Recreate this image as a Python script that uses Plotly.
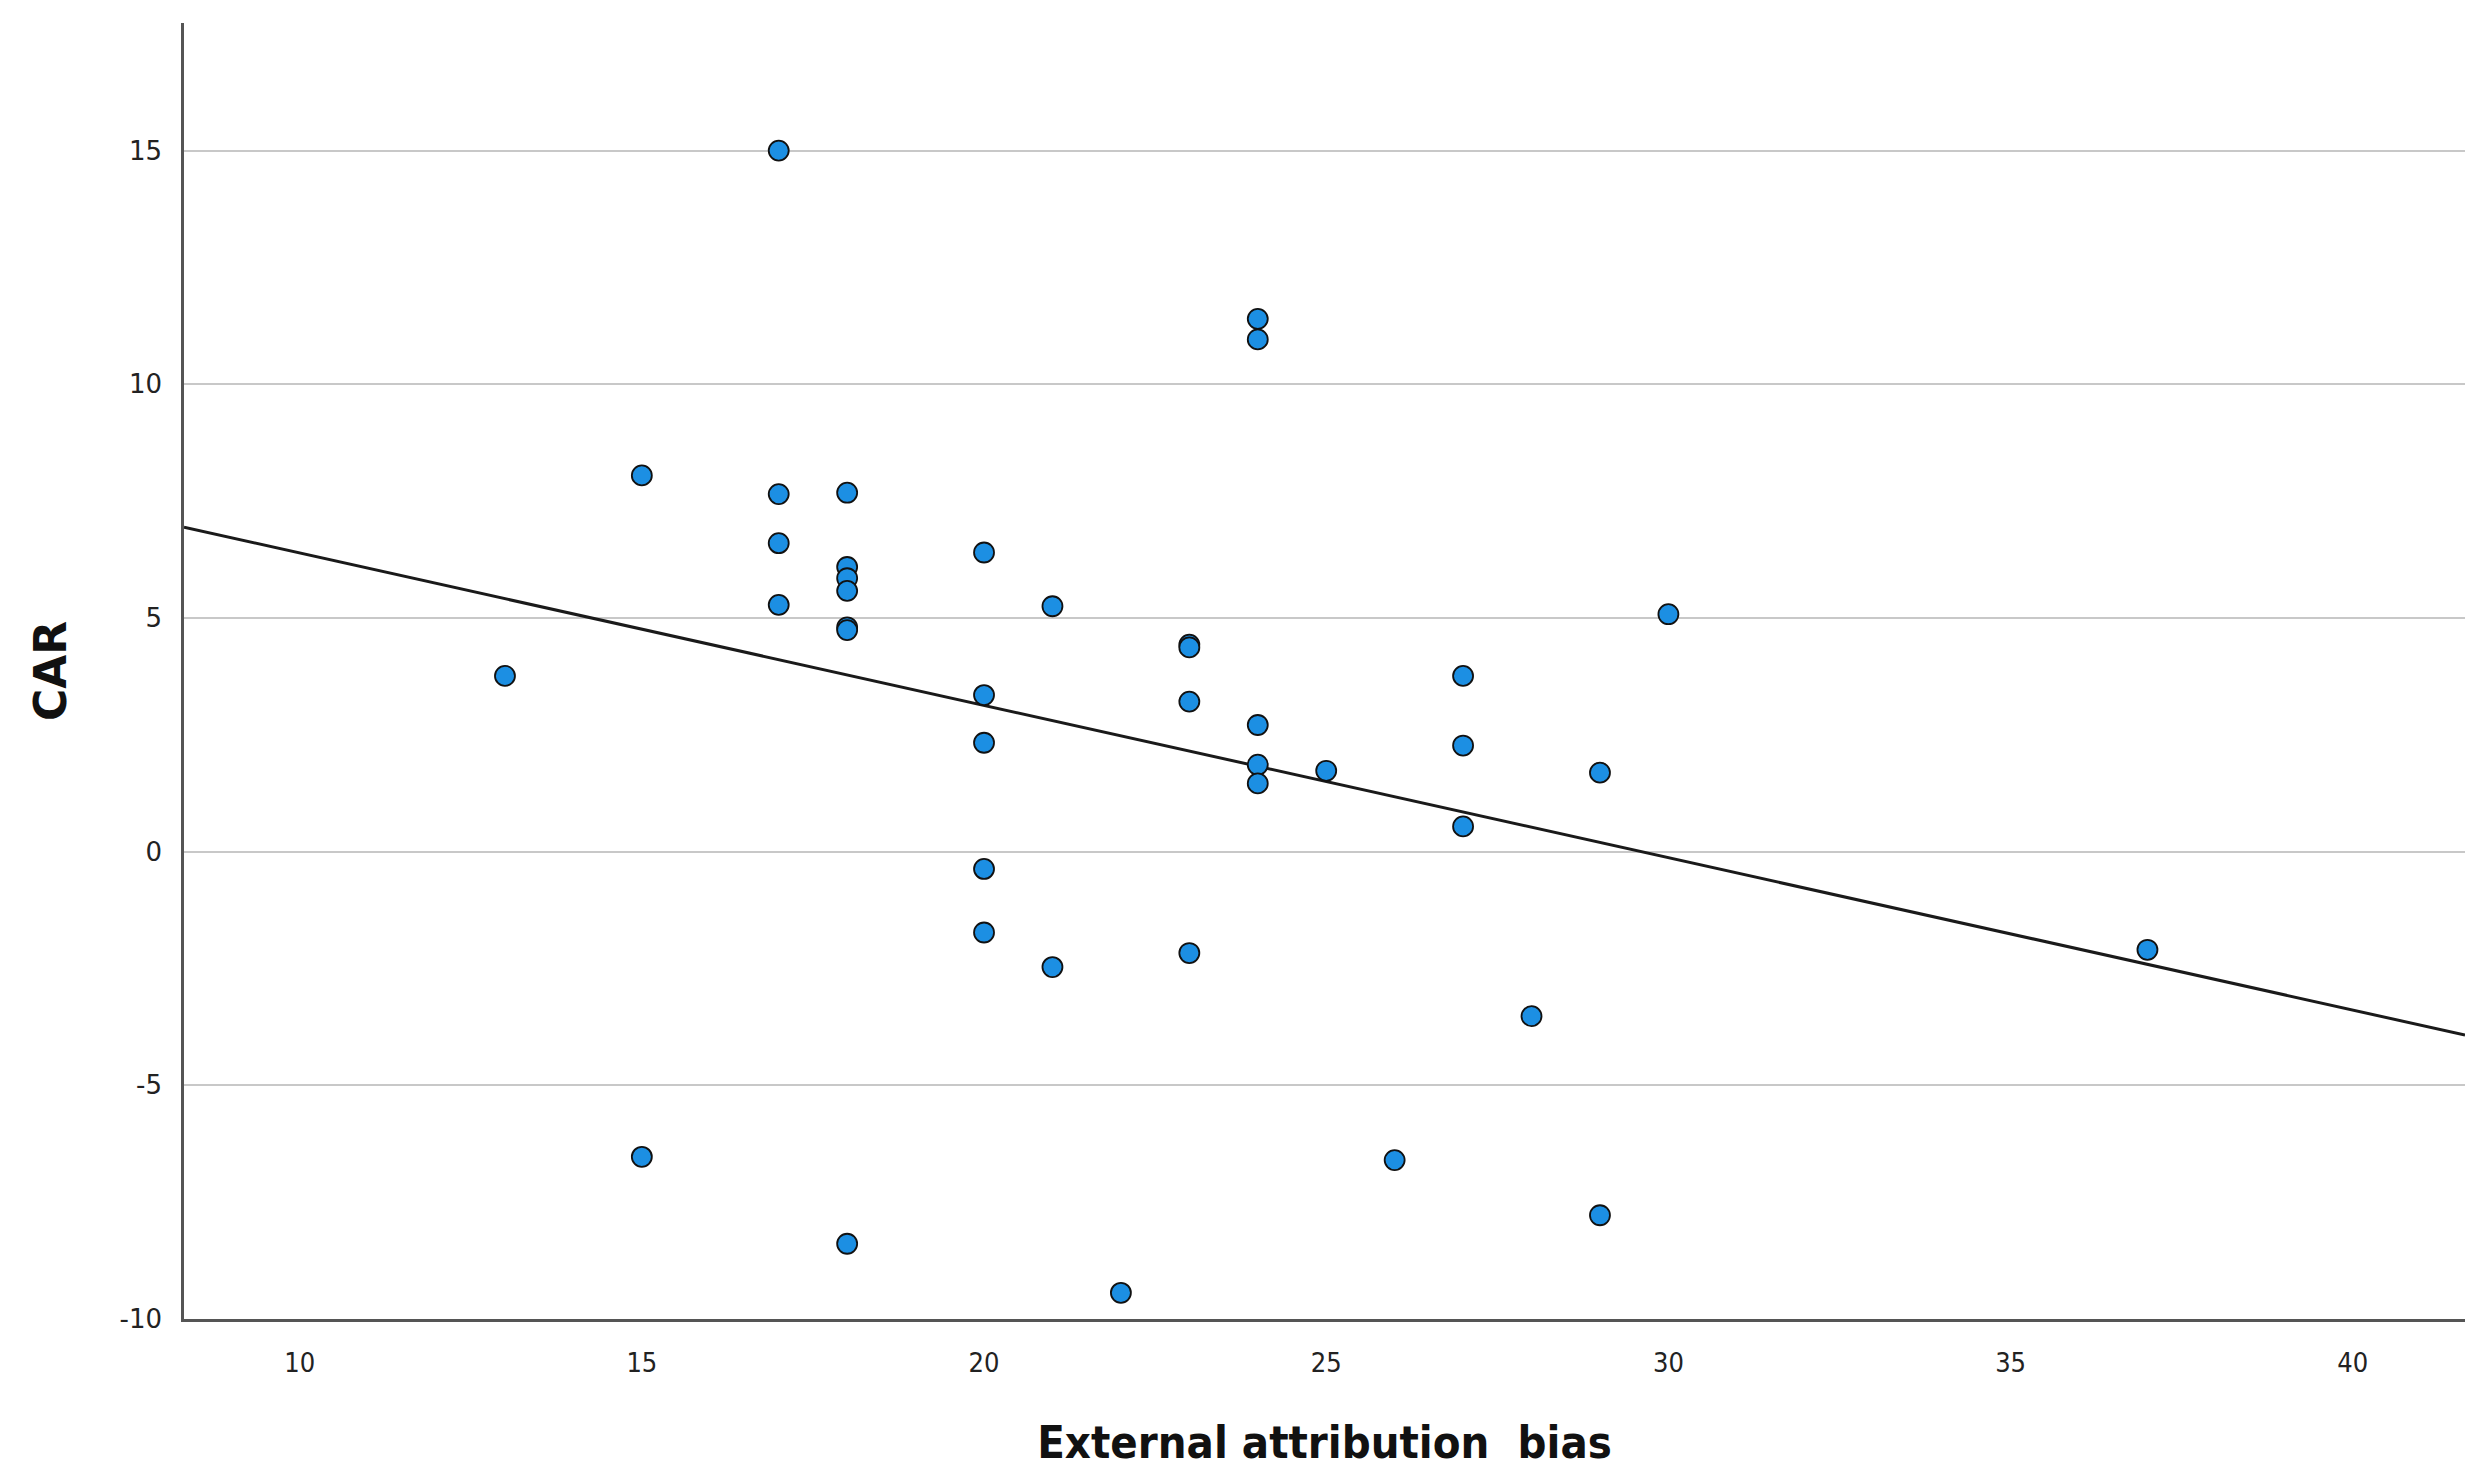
import plotly.graph_objects as go
import numpy as np

# Data
ext_bias = [17, 24, 24, 15, 17, 18, 17, 18, 18, 18, 20, 17, 21, 30, 18, 18,
            13, 23, 23, 27, 20, 23, 24, 20, 27, 24, 25, 29, 24, 27,
            20, 20, 21, 23, 37, 28, 15, 26, 29, 18, 22]
car = [15.0, 11.4, 10.96, 8.05, 7.65, 7.68, 6.60, 6.09, 5.85, 5.58, 6.40, 5.28, 5.25, 5.08, 4.80, 4.74,
       3.76, 4.43, 4.37, 3.76, 3.35, 3.21, 2.71, 2.33, 2.27, 1.86, 1.73, 1.69, 1.46, 0.54,
       -0.37, -1.73, -2.47, -2.17, -2.10, -3.52, -6.53, -6.60, -7.78, -8.39, -9.44]

# Fit line (intercept, slope) as drawn in the reference
fit_intercept = 9.65
fit_slope = -0.326

x_range = [8.31, 41.64]
y_range = [-10, 17.73]
x_ticks = [10, 15, 20, 25, 30, 35, 40]
x_ticklabels = ["10", "15", "20", "25", "30", "35", "40"]
y_ticks = [-10, -5, 0, 5, 10, 15]
y_ticklabels = ["-10", "-5", "0", "5", "10", "15"]

fx = np.array(x_range)
fy = fit_intercept + fit_slope * fx

fig = go.Figure()
fig.add_trace(go.Scatter(x=fx, y=fy, mode="lines",
                         line=dict(color="#1a1a1a", width=3),
                         showlegend=False, hoverinfo="skip"))
fig.add_trace(go.Scatter(x=ext_bias, y=car, mode="markers",
                         marker=dict(size=20, color="#1c8fe3",
                                     line=dict(color="#111111", width=1.8)),
                         showlegend=False))

fig.update_layout(
    width=2482, height=1476,
    paper_bgcolor="white", plot_bgcolor="white",
    margin=dict(l=176, r=25, t=15, b=165),
    font=dict(family="DejaVu Sans Condensed, DejaVu Sans", color="#222222"),
)
fig.update_xaxes(range=x_range, tickvals=x_ticks, ticktext=x_ticklabels,
                 showgrid=False, zeroline=False,
                 showline=True, linecolor="#555555", linewidth=2.5,
                 ticks="", ticklabelstandoff=18,
                 tickfont=dict(size=27, family="DejaVu Sans Condensed", color="#222222"),
                 title=dict(text="External attribution  bias", standoff=50,
                            font=dict(size=45, family="DejaVu Sans Condensed", color="#111111",
                                      weight="bold")))
fig.update_yaxes(range=y_range, tickvals=y_ticks, ticktext=y_ticklabels,
                 showgrid=True, gridcolor="#c8c8c8",
                 gridwidth=2, zeroline=False,
                 showline=True, linecolor="#555555", linewidth=2.5,
                 ticks="", ticklabelstandoff=14,
                 tickfont=dict(size=26, family="DejaVu Sans", color="#222222"),
                 title=dict(text="CAR", standoff=40,
                            font=dict(size=44, family="DejaVu Sans", color="#111111",
                                      weight="bold")))

fig.write_html("out.html")
